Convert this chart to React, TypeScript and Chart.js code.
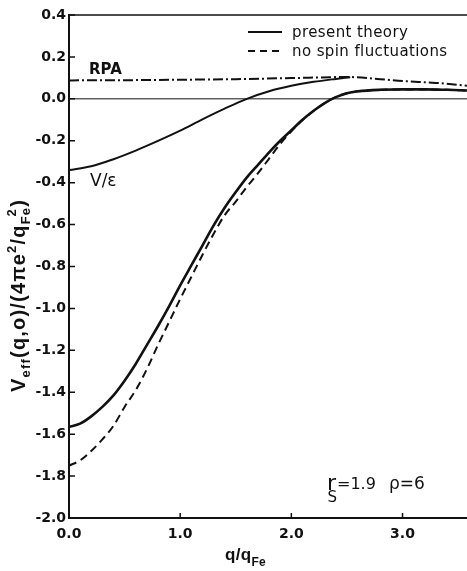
import React, { useEffect, useRef } from "react";
import { Chart, registerables } from "chart.js";

Chart.register(...registerables);

// ---------- data ----------
const qPresent = [0, 0.1, 0.2, 0.3, 0.4, 0.5, 0.6, 0.7, 0.8, 0.9, 1.0, 1.1, 1.2, 1.3, 1.4, 1.5, 1.6, 1.7, 1.8, 1.9, 2.0, 2.1, 2.2, 2.3, 2.4, 2.5, 2.6, 2.8, 3.0, 3.2, 3.4, 3.58];
const vPresent = [-1.565, -1.55, -1.515, -1.47, -1.415, -1.345, -1.265, -1.175, -1.085, -0.99, -0.89, -0.795, -0.7, -0.605, -0.52, -0.445, -0.375, -0.315, -0.255, -0.2, -0.15, -0.1, -0.057, -0.02, 0.008, 0.027, 0.036, 0.043, 0.045, 0.045, 0.043, 0.04];

const qNoSpin = [0, 0.1, 0.2, 0.3, 0.4, 0.5, 0.6, 0.7, 0.8, 0.9, 1.0, 1.1, 1.2, 1.3, 1.4, 1.5, 1.6, 1.7, 1.8, 1.9, 2.0, 2.1, 2.2, 2.3, 2.4, 2.5, 2.6, 2.8, 3.0, 3.2, 3.4, 3.58];
const vNoSpin = [-1.75, -1.725, -1.68, -1.625, -1.56, -1.47, -1.39, -1.29, -1.175, -1.065, -0.955, -0.85, -0.745, -0.645, -0.555, -0.49, -0.42, -0.355, -0.285, -0.215, -0.155, -0.102, -0.058, -0.02, 0.008, 0.027, 0.036, 0.043, 0.045, 0.045, 0.043, 0.04];

const qVeps = [0, 0.2, 0.4, 0.6, 0.8, 1.0, 1.2, 1.4, 1.6, 1.8, 2.0, 2.2, 2.4, 2.53];
const vVeps = [-0.34, -0.322, -0.288, -0.247, -0.201, -0.152, -0.098, -0.047, 0.0, 0.036, 0.062, 0.081, 0.095, 0.103];

const qRPA = [0, 0.5, 1.0, 1.5, 2.0, 2.5, 2.8, 3.0, 3.3, 3.58];
const vRPA = [0.088, 0.089, 0.091, 0.094, 0.099, 0.104, 0.094, 0.085, 0.076, 0.063];

const seriesNames = ["present theory", "no spin fluctuations", "V/ε", "RPA"];

const yTicks = [-2.0, -1.8, -1.6, -1.4, -1.2, -1.0, -0.8, -0.6, -0.4, -0.2, 0.0, 0.2, 0.4];
const yTickLabels = ["-2.0", "-1.8", "-1.6", "-1.4", "-1.2", "-1.0", "-0.8", "-0.6", "-0.4", "-0.2", "0.0", "0.2", "0.4"];
const xTicks = [0, 1, 2, 3];
const xTickLabels = ["0.0", "1.0", "2.0", "3.0"];

const xMin = 0;
const xMax = 3.58;
const yMin = -2.0;
const yMax = 0.4;

const pts = (xs: number[], ys: number[]) => xs.map((x, i) => ({ x, y: ys[i] }));

type Piece = { t: string; size: number; dy?: number; back?: number };

function drawRich(ctx: CanvasRenderingContext2D, pieces: Piece[], family: string, weight: string, spacing: number) {
  let x = 0;
  let prevStart = 0;
  let prevW = 0;
  for (const p of pieces) {
    ctx.font = `${weight} ${p.size}px ${family}`;
    try { (ctx as any).letterSpacing = `${spacing}px`; } catch (e) {}
    let start = x;
    if (p.back !== undefined) start = prevStart + prevW * p.back;
    ctx.fillText(p.t, start, p.dy || 0);
    const w = ctx.measureText(p.t).width;
    prevStart = start;
    prevW = w;
    x = Math.max(x, start + w);
  }
  try { (ctx as any).letterSpacing = "0px"; } catch (e) {}
  return x;
}

const decor = {
  id: "decor",
  beforeDatasetsDraw(chart: any) {
    const { ctx, chartArea, scales } = chart;
    const y0 = scales.y.getPixelForValue(0);
    ctx.save();
    ctx.strokeStyle = "#111";
    ctx.lineWidth = 1;
    ctx.beginPath();
    ctx.moveTo(chartArea.left, y0);
    ctx.lineTo(chartArea.right, y0);
    ctx.stroke();
    ctx.restore();
  },
  afterDraw(chart: any) {
    const { ctx, chartArea, scales } = chart;
    const xs = scales.x;
    const ys = scales.y;
    ctx.save();
    ctx.fillStyle = "#111";
    ctx.strokeStyle = "#111";

    // top frame line
    ctx.lineWidth = 1.5;
    ctx.beginPath();
    ctx.moveTo(chartArea.left, chartArea.top);
    ctx.lineTo(chartArea.right, chartArea.top);
    ctx.stroke();

    // inward ticks
    ctx.lineWidth = 1.5;
    ctx.beginPath();
    for (const v of yTicks) {
      const py = ys.getPixelForValue(v);
      ctx.moveTo(chartArea.left, py);
      ctx.lineTo(chartArea.left + 6, py);
    }
    for (const v of xTicks) {
      const px = xs.getPixelForValue(v);
      ctx.moveTo(px, chartArea.bottom);
      ctx.lineTo(px, chartArea.bottom - 5);
    }
    ctx.stroke();

    // legend
    const lx0 = 248, lx1 = 282;
    ctx.lineWidth = 2;
    ctx.setLineDash([]);
    ctx.beginPath();
    ctx.moveTo(lx0, 32);
    ctx.lineTo(lx1, 32);
    ctx.stroke();
    ctx.setLineDash([7, 5]);
    ctx.beginPath();
    ctx.moveTo(lx0, 51);
    ctx.lineTo(lx1 + 2, 51);
    ctx.stroke();
    ctx.setLineDash([]);
    ctx.font = "15px 'DejaVu Sans'";
    try { (ctx as any).letterSpacing = "0.4px"; } catch (e) {}
    ctx.textBaseline = "alphabetic";
    ctx.textAlign = "left";
    ctx.fillText(seriesNames[0], 292, 37);
    ctx.fillText(seriesNames[1], 292, 56);
    try { (ctx as any).letterSpacing = "0px"; } catch (e) {}

    // curve labels
    ctx.font = "bold 15px 'DejaVu Sans'";
    ctx.fillText(seriesNames[3], 89, 74);
    ctx.font = "17px 'DejaVu Sans'";
    ctx.fillText(seriesNames[2], 90, 186);

    // parameters annotation
    ctx.save();
    ctx.translate(327, 490);
    drawRich(ctx, [
      { t: "r", size: 22 },
      { t: "S", size: 15, dy: 12, back: 0.05 },
      { t: "=1.9", size: 16, dy: -1 },
    ], "'DejaVu Sans'", "normal", 0);
    ctx.restore();
    ctx.save();
    ctx.translate(389, 489);
    drawRich(ctx, [{ t: "ρ=6", size: 17 }], "'DejaVu Sans'", "normal", 0);
    ctx.restore();

    // x title
    ctx.save();
    ctx.translate(225, 560);
    drawRich(ctx, [
      { t: "q/q", size: 17 },
      { t: "Fe", size: 12, dy: 6 },
    ], "'Liberation Sans'", "bold", 0.3);
    ctx.restore();

    // y title
    ctx.save();
    ctx.translate(25, 392);
    ctx.rotate(-Math.PI / 2);
    drawRich(ctx, [
      { t: "V", size: 20 },
      { t: "eff", size: 13, dy: 5 },
      { t: "(q,o)/(4πe", size: 20 },
      { t: "2", size: 13, dy: -9 },
      { t: "/q", size: 20 },
      { t: "Fe", size: 13, dy: 5 },
      { t: "2", size: 13, dy: -9, back: 0.45 },
      { t: ")", size: 20 },
    ], "'Liberation Sans'", "bold", 1.2);
    ctx.restore();

    ctx.restore();
  },
};

export default function App() {
  const ref = useRef<HTMLCanvasElement | null>(null);
  useEffect(() => {
    if (!ref.current) return;
    const tickFont = { family: "'DejaVu Sans'", size: 14, weight: "bold" as const };
    const chart = new Chart(ref.current, {
      type: "line",
      data: {
        datasets: [
          {
            label: seriesNames[0],
            data: pts(qPresent, vPresent),
            borderColor: "#111",
            borderWidth: 2.6,
            pointRadius: 0,
            cubicInterpolationMode: "monotone",
          },
          {
            label: seriesNames[1],
            data: pts(qNoSpin, vNoSpin),
            borderColor: "#111",
            borderWidth: 2,
            borderDash: [8, 5],
            pointRadius: 0,
            cubicInterpolationMode: "monotone",
          },
          {
            label: seriesNames[2],
            data: pts(qVeps, vVeps),
            borderColor: "#111",
            borderWidth: 2,
            pointRadius: 0,
            cubicInterpolationMode: "monotone",
          },
          {
            label: seriesNames[3],
            data: pts(qRPA, vRPA),
            borderColor: "#111",
            borderWidth: 2,
            borderDash: [10, 3, 2, 3],
            pointRadius: 0,
            cubicInterpolationMode: "monotone",
          },
        ],
      },
      options: {
        animation: false,
        responsive: false,
        devicePixelRatio: 1,
        layout: { padding: { top: 15, right: 0, left: 0, bottom: 0 } },
        plugins: { legend: { display: false }, tooltip: { enabled: false } },
        scales: {
          x: {
            type: "linear",
            min: xMin,
            max: xMax,
            afterBuildTicks: (s: any) => { s.ticks = xTicks.map((v) => ({ value: v })); },
            afterFit: (s: any) => { s.height = 53; },
            grid: { drawOnChartArea: false, drawTicks: false },
            border: { display: true, color: "#111", width: 2 },
            ticks: {
              padding: 8,
              color: "#111",
              font: tickFont,
              maxRotation: 0,
              autoSkip: false,
              callback: (v: any) => {
                const i = xTicks.findIndex((t) => Math.abs(t - Number(v)) < 1e-6);
                return i >= 0 ? xTickLabels[i] : "";
              },
            },
          },
          y: {
            type: "linear",
            min: yMin,
            max: yMax,
            afterBuildTicks: (s: any) => { s.ticks = yTicks.map((v) => ({ value: v })); },
            afterFit: (s: any) => { s.width = 69; },
            grid: { drawOnChartArea: false, drawTicks: false },
            border: { display: true, color: "#111", width: 2 },
            ticks: {
              padding: 3,
              color: "#111",
              font: tickFont,
              autoSkip: false,
              callback: (v: any) => {
                const i = yTicks.findIndex((t) => Math.abs(t - Number(v)) < 1e-6);
                return i >= 0 ? yTickLabels[i] : "";
              },
            },
          },
        },
      } as any,
      plugins: [decor],
    });
    return () => chart.destroy();
  }, []);

  return (
    <div style={{ position: "fixed", left: 0, top: 0, width: 467, height: 571, background: "#fff" }}>
      <canvas ref={ref} width={467} height={571} style={{ display: "block", width: 467, height: 571 }} />
    </div>
  );
}
